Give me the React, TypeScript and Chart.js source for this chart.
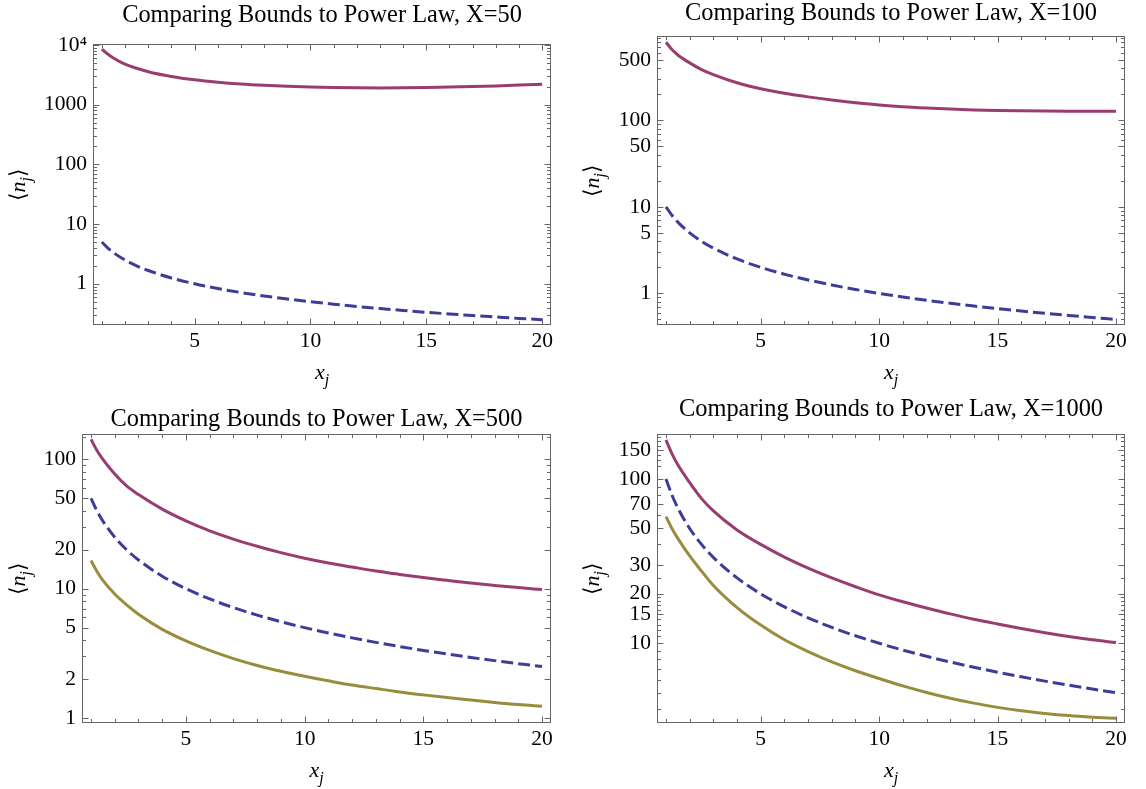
import React, { useEffect, useRef } from "react";
import { Chart, registerables } from "chart.js";

Chart.register(...registerables);

// ---------- data ----------
const xValues = [1, 1.25, 1.5, 2, 2.5, 3, 4, 5, 6, 7, 8, 9, 10, 11, 12, 13, 14, 15, 16, 17, 18, 19, 20];

// X = 50
const upper50 = [8500, 7050, 6050, 4750, 4065, 3560, 2960, 2600, 2370, 2210, 2100, 2020, 1965, 1930, 1910, 1905, 1915, 1935, 1965, 2005, 2055, 2120, 2190];
const power50 = [5, 4, 3.333, 2.5, 2, 1.667, 1.25, 1, 0.833, 0.714, 0.625, 0.556, 0.5, 0.455, 0.417, 0.385, 0.357, 0.333, 0.3125, 0.294, 0.278, 0.263, 0.25];

// X = 100
const upper100 = [800, 660, 570, 462, 386, 338, 272, 232, 206, 187, 172, 160, 151, 144, 139, 135, 132, 130, 128.8, 128, 127.6, 127.6, 127.8];
const power100 = [10, 8, 6.667, 5, 4, 3.333, 2.5, 2, 1.667, 1.429, 1.25, 1.111, 1, 0.909, 0.833, 0.769, 0.714, 0.667, 0.625, 0.588, 0.556, 0.526, 0.5];

// X = 500
const upper500 = [143, 117, 100, 77, 62.3, 53.4, 41.2, 33.4, 28, 24.2, 21.3, 19, 17.2, 15.8, 14.7, 13.7, 12.9, 12.2, 11.6, 11.05, 10.6, 10.2, 9.85];
const power500 = [50, 40, 33.33, 25, 20, 16.67, 12.5, 10, 8.333, 7.143, 6.25, 5.556, 5, 4.545, 4.167, 3.846, 3.571, 3.333, 3.125, 2.941, 2.778, 2.632, 2.5];
const lower500 = [16.5, 13.6, 11.6, 9.1, 7.5, 6.35, 4.85, 3.95, 3.33, 2.88, 2.55, 2.3, 2.1, 1.94, 1.8, 1.69, 1.59, 1.51, 1.44, 1.38, 1.32, 1.27, 1.235];

// X = 1000
const upper1000 = [173, 143, 122, 95, 76, 64, 49, 40, 33.5, 28.7, 25, 22.1, 19.7, 17.9, 16.4, 15.1, 14, 13.1, 12.3, 11.6, 11, 10.5, 10.1];
const power1000 = [100, 80, 66.67, 50, 40, 33.33, 25, 20, 16.67, 14.29, 12.5, 11.11, 10, 9.091, 8.333, 7.692, 7.143, 6.667, 6.25, 5.882, 5.556, 5.263, 5];
const lower1000 = [59, 50, 43.5, 34, 27.5, 22.5, 16.5, 12.9, 10.5, 8.9, 7.7, 6.8, 6.1, 5.5, 5.02, 4.63, 4.32, 4.07, 3.88, 3.74, 3.63, 3.55, 3.49];

// tick values
const xTicks = [5, 10, 15, 20];
const xMinor = [1, 2, 3, 4, 6, 7, 8, 9, 11, 12, 13, 14, 16, 17, 18, 19];
const yTicks50 = [1, 10, 100, 1000, 10000];
const yMinor50 = [0.3, 0.4, 0.5, 0.6, 0.7, 0.8, 0.9, 2, 3, 4, 5, 6, 7, 8, 9, 20, 30, 40, 50, 60, 70, 80, 90, 200, 300, 400, 500, 600, 700, 800, 900, 2000, 3000, 4000, 5000, 6000, 7000, 8000, 9000];
const yTicks100 = [1, 5, 10, 50, 100, 500];
const yMinor100 = [0.5, 0.6, 0.7, 0.8, 0.9, 2, 3, 4, 6, 7, 8, 9, 20, 30, 40, 60, 70, 80, 90, 200, 300, 400, 600, 700, 800, 900];
const yTicks500 = [1, 2, 5, 10, 20, 50, 100];
const yMinor500 = [3, 4, 6, 7, 8, 9, 30, 40, 60, 70, 80, 90, 150];
const yTicks1000 = [10, 15, 20, 30, 50, 70, 100, 150];
const yMinor1000 = [4, 5, 6, 7, 8, 9, 11, 12, 13, 14, 16, 17, 18, 19, 25, 40, 60, 80, 90, 120, 130, 140, 160, 170, 180];

const titles = [
  "Comparing Bounds to Power Law, X=50",
  "Comparing Bounds to Power Law, X=100",
  "Comparing Bounds to Power Law, X=500",
  "Comparing Bounds to Power Law, X=1000",
];

// ---------- styling ----------
const MAGENTA = "rgb(153, 61, 113)";
const BLUE = "rgb(61, 61, 153)";
const GOLD = "rgb(153, 141, 61)";
const FRAME = "#666666";
const SERIF = '"Liberation Serif", "Times New Roman", "DejaVu Serif", serif';

type Series = { values: number[]; color: string; dashed: boolean };
type Spec = {
  title: string;
  left: number; top: number; width: number; height: number;
  yAxisWidth: number; xAxisHeight: number; padRight: number;
  titlePadTop: number; titlePadBottom: number;
  yMin: number; yMax: number;
  yTicks: number[]; yMinor: number[];
  yLabelX: number;
  series: Series[];
};

const panels: Spec[] = [
  {
    title: titles[0], left: 0, top: 0, width: 573, height: 394,
    yAxisWidth: 93, xAxisHeight: 69, padRight: 22, titlePadTop: 3.6, titlePadBottom: 16.4,
    yMin: 0.204, yMax: 10190, yTicks: yTicks50, yMinor: yMinor50, yLabelX: 18,
    series: [
      { values: upper50, color: MAGENTA, dashed: false },
      { values: power50, color: BLUE, dashed: true },
    ],
  },
  {
    title: titles[1], left: 573, top: 0, width: 573, height: 394,
    yAxisWidth: 84, xAxisHeight: 69, padRight: 21, titlePadTop: 1, titlePadBottom: 11,
    yMin: 0.431, yMax: 935, yTicks: yTicks100, yMinor: yMinor100, yLabelX: 19,
    series: [
      { values: upper100, color: MAGENTA, dashed: false },
      { values: power100, color: BLUE, dashed: true },
    ],
  },
  {
    title: titles[2], left: 0, top: 394, width: 573, height: 395,
    yAxisWidth: 82, xAxisHeight: 66, padRight: 22, titlePadTop: 12.9, titlePadBottom: 3.1,
    yMin: 0.915, yMax: 156, yTicks: yTicks500, yMinor: yMinor500, yLabelX: 18,
    series: [
      { values: upper500, color: MAGENTA, dashed: false },
      { values: power500, color: BLUE, dashed: true },
      { values: lower500, color: GOLD, dashed: false },
    ],
  },
  {
    title: titles[3], left: 573, top: 394, width: 573, height: 395,
    yAxisWidth: 84, xAxisHeight: 66, padRight: 21, titlePadTop: 3.6, titlePadBottom: 12.4,
    yMin: 3.27, yMax: 187, yTicks: yTicks1000, yMinor: yMinor1000, yLabelX: 19,
    series: [
      { values: upper1000, color: MAGENTA, dashed: false },
      { values: power1000, color: BLUE, dashed: true },
      { values: lower1000, color: GOLD, dashed: false },
    ],
  },
];

type Seg = { t: string; italic?: boolean; sub?: boolean };
const yLabelSegs: Seg[] = [{ t: "\u27E8" }, { t: "n", italic: true }, { t: "j", italic: true, sub: true }, { t: "\u27E9" }];
const xLabelSegs: Seg[] = [{ t: "x", italic: true }, { t: "j", italic: true, sub: true }];

function segFont(s: Seg, size: number) {
  const sz = s.sub ? Math.round(size * 0.72) : size;
  return `${s.italic ? "italic " : ""}${sz}px ${SERIF}`;
}

function drawRich(ctx: CanvasRenderingContext2D, segs: Seg[], cx: number, baseline: number, size: number) {
  let total = 0;
  const widths = segs.map((s) => {
    ctx.font = segFont(s, size);
    const w = ctx.measureText(s.t).width;
    total += w;
    return w;
  });
  let x = cx - total / 2;
  segs.forEach((s, i) => {
    ctx.font = segFont(s, size);
    ctx.fillText(s.t, x, baseline + (s.sub ? size * 0.28 : 0));
    x += widths[i];
  });
}

const framePlugin = {
  id: "mmaFrame",
  afterDraw(chart: any, _args: any, opts: any) {
    const { ctx, chartArea: a, scales } = chart;
    const xs = scales.x;
    const ys = scales.y;
    ctx.save();
    ctx.strokeStyle = FRAME;
    ctx.lineWidth = 1;
    const L = Math.round(a.left) + 0.5;
    const R = Math.round(a.right) - 0.5;
    const T = Math.round(a.top) + 0.5;
    const B = Math.round(a.bottom) - 0.5;
    ctx.strokeRect(L, T, R - L, B - T);
    ctx.beginPath();
    const xTick = (v: number, len: number) => {
      const p = Math.round(xs.getPixelForValue(v)) + 0.5;
      ctx.moveTo(p, B); ctx.lineTo(p, B - len);
      ctx.moveTo(p, T); ctx.lineTo(p, T + len);
    };
    const yTick = (v: number, len: number) => {
      if (v < ys.min || v > ys.max) return;
      const p = Math.round(ys.getPixelForValue(v)) + 0.5;
      ctx.moveTo(L, p); ctx.lineTo(L + len, p);
      ctx.moveTo(R, p); ctx.lineTo(R - len, p);
    };
    (opts.xMajor || []).forEach((v: number) => xTick(v, 6));
    (opts.xMinor || []).forEach((v: number) => xTick(v, 3.5));
    (opts.yMajor || []).forEach((v: number) => yTick(v, 6));
    (opts.yMinor || []).forEach((v: number) => yTick(v, 3.5));
    ctx.stroke();

    // axis labels
    ctx.fillStyle = "#000";
    ctx.textAlign = "left";
    ctx.textBaseline = "alphabetic";
    const size = 22;
    drawRich(ctx, xLabelSegs, (a.left + a.right) / 2, a.bottom + 48 + size * 0.25, size);
    ctx.translate(opts.yLabelX, (a.top + a.bottom) / 2);
    ctx.rotate(-Math.PI / 2);
    drawRich(ctx, yLabelSegs, 0, size * 0.3, size);
    ctx.restore();
  },
};

function Panel({ spec }: { spec: Spec }) {
  const ref = useRef<HTMLCanvasElement>(null);
  useEffect(() => {
    const canvas = ref.current;
    if (!canvas) return;
    const chart = new Chart(canvas, {
      type: "line",
      data: {
        datasets: spec.series.map((s) => ({
          data: xValues.map((x, i) => ({ x, y: s.values[i] })),
          borderColor: s.color,
          borderWidth: 3,
          borderDash: s.dashed ? [12, 5] : [],
          pointRadius: 0,
          fill: false,
          cubicInterpolationMode: "monotone" as const,
        })),
      },
      options: {
        animation: false,
        responsive: false,
        devicePixelRatio: 1,
        events: [],
        layout: { padding: { left: 0, right: spec.padRight, top: 0, bottom: 0 } },
        plugins: {
          legend: { display: false },
          tooltip: { enabled: false },
          title: {
            display: true,
            text: spec.title,
            fullSize: false,
            color: "#000",
            font: { family: SERIF, size: 24.4, weight: "normal", lineHeight: 1 },
            padding: { top: spec.titlePadTop, bottom: spec.titlePadBottom },
          },
          mmaFrame: {
            xMajor: xTicks,
            xMinor: xMinor,
            yMajor: spec.yTicks,
            yMinor: spec.yMinor,
            yLabelX: spec.yLabelX,
          },
        } as any,
        scales: {
          x: {
            type: "linear",
            min: 0.62,
            max: 20.38,
            grid: { display: false, drawTicks: false },
            border: { display: false },
            ticks: { color: "#000", font: { family: SERIF, size: 21.5 }, padding: 3, maxRotation: 0, autoSkip: false },
            afterBuildTicks: (axis: any) => { axis.ticks = xTicks.map((v) => ({ value: v })); },
            afterFit: (axis: any) => { axis.height = spec.xAxisHeight; },
          },
          y: {
            type: "logarithmic",
            min: spec.yMin,
            max: spec.yMax,
            grid: { display: false, drawTicks: false },
            border: { display: false },
            ticks: {
              color: "#000",
              font: { family: SERIF, size: 21.5 },
              padding: 6,
              autoSkip: false,
              callback: (value: any) => (Number(value) === 10000 ? "10\u2074" : String(value)),
            },
            afterBuildTicks: (axis: any) => { axis.ticks = spec.yTicks.map((v) => ({ value: v })); },
            afterFit: (axis: any) => { axis.width = spec.yAxisWidth; },
          },
        },
      },
      plugins: [framePlugin],
    } as any);
    return () => chart.destroy();
  }, [spec]);
  return (
    <canvas
      ref={ref}
      width={spec.width}
      height={spec.height}
      style={{ position: "absolute", left: spec.left, top: spec.top, width: spec.width, height: spec.height }}
    />
  );
}

export default function App() {
  return (
    <div style={{ position: "absolute", left: 0, top: 0, width: 1146, height: 789, background: "#ffffff" }}>
      {panels.map((p, i) => (
        <Panel key={i} spec={p} />
      ))}
    </div>
  );
}
